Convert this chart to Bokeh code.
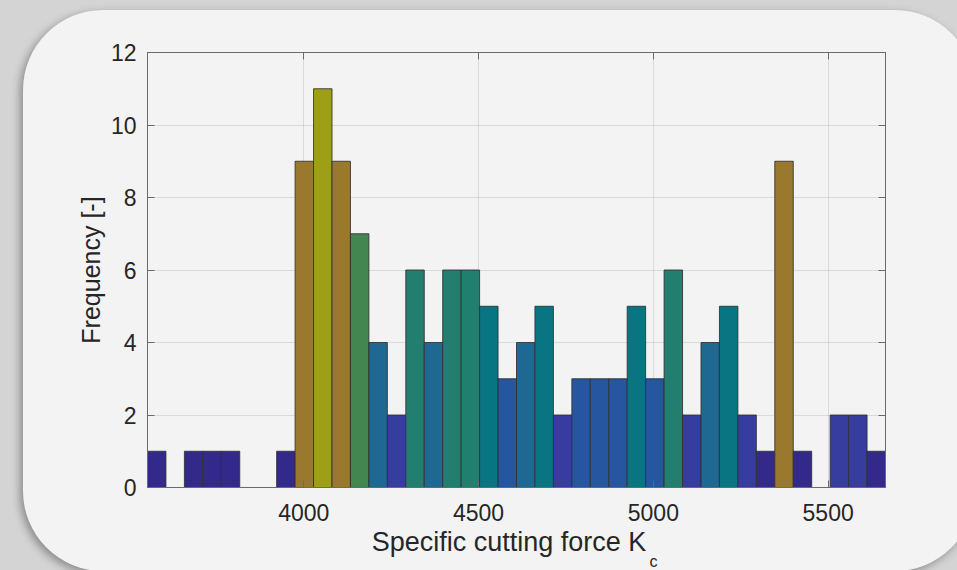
import numpy as np
from bokeh.plotting import figure
from bokeh.models import (ColumnDataSource, LinearAxis, FixedTicker, Range1d, Title,
                          InlineStyleSheet)
from bokeh.embed import file_html
from bokeh.resources import INLINE

# ---------------- data ----------------
bin_min = 3553.0          # first bin edge
bin_max = 5664.0          # last bin edge
counts = [1, 0, 1, 1, 1, 0, 0, 1, 9, 11, 9, 7, 4, 2, 6, 4, 6, 6, 5, 3,
          4, 5, 2, 3, 3, 3, 5, 3, 6, 2, 4, 5, 2, 1, 9, 1, 0, 2, 2, 1]
x_ticks = [4000, 4500, 5000, 5500]
y_ticks = [0, 2, 4, 6, 8, 10, 12]
x_label = "Specific cutting force K"
x_label_sub = "c"
y_label = "Frequency [-]"

# colour per bar height (muted parula-like map seen in the picture)
count_colors = {1: "#32298b", 2: "#373d9f", 3: "#2656a0", 4: "#1e6891",
                5: "#0a7582", 6: "#227e6e", 7: "#43864f", 8: "#6f7f3e",
                9: "#9a782e", 10: "#9c8c22", 11: "#9d9f17"}

# ---------------- build ----------------
edges = np.linspace(bin_min, bin_max, len(counts) + 1)
left, right, top, color = [], [], [], []
for i, c in enumerate(counts):
    if c > 0:
        left.append(edges[i]); right.append(edges[i + 1]); top.append(c)
        color.append(count_colors[c])
src = ColumnDataSource(dict(left=left, right=right, top=top, color=color))

BG = "#d4d4d4"
PANEL = "#f3f3f3"
AX = "#6a6a6a"
TXT = "#262626"
FONT = "Liberation Sans"

p = figure(width=957, height=570, output_backend="svg", toolbar_location=None,
           x_range=Range1d(bin_min, bin_max), y_range=Range1d(0, 12),
           min_border_left=147, min_border_right=72, min_border_top=52,
           min_border_bottom=83)
p.border_fill_color = None
p.background_fill_color = PANEL
p.outline_line_color = AX
p.outline_line_width = 1

# grey page with a rounded, shadowed panel behind the chart
css = """
:host { position: relative; background-color: %s; overflow: hidden; isolation: isolate; }
:host::before { content: ""; position: absolute; left: 23px; top: 10px;
  width: 952px; height: 561px; border-radius: 80px; background-color: %s;
  box-shadow: -3px 3px 9px rgba(0,0,0,0.35); z-index: -1; pointer-events: none; }
""" % (BG, PANEL)
p.stylesheets = [InlineStyleSheet(css=css)]

p.quad(left="left", right="right", top="top", bottom=0, source=src,
       fill_color="color", line_color="#303030", line_alpha=0.85, line_width=1)

# grid
p.xgrid.ticker = FixedTicker(ticks=x_ticks)
p.ygrid.ticker = FixedTicker(ticks=y_ticks)
for g in (p.xgrid[0], p.ygrid[0]):
    g.grid_line_color = "#262626"
    g.grid_line_alpha = 0.12
    g.grid_line_width = 1

p.xaxis.ticker = FixedTicker(ticks=x_ticks)
p.yaxis.ticker = FixedTicker(ticks=y_ticks)


def style_axis(ax):
    ax.major_tick_in = 7
    ax.major_tick_out = 0
    ax.minor_tick_in = 0
    ax.minor_tick_out = 0
    ax.axis_line_color = AX
    ax.major_tick_line_color = AX
    ax.major_label_text_font = FONT
    ax.major_label_text_font_size = "23px"
    ax.major_label_text_color = TXT
    ax.axis_label_text_font = FONT
    ax.axis_label_text_font_size = "25px"
    ax.axis_label_text_font_style = "normal"
    ax.axis_label_text_color = TXT


for ax in p.xaxis + p.yaxis:
    style_axis(ax)

p.yaxis.major_label_standoff = 11
p.yaxis.axis_label = y_label
p.yaxis.axis_label_standoff = 3
p.xaxis.major_label_standoff = 16
p.xaxis.axis_label = x_label + "\u00a0\u00a0"
p.xaxis.axis_label_text_font_size = "27px"
p.xaxis.axis_label_standoff = 3

# box-style inward ticks on top and right
top_ax = LinearAxis(ticker=FixedTicker(ticks=x_ticks),
                    major_label_overrides={t: "" for t in x_ticks})
right_ax = LinearAxis(ticker=FixedTicker(ticks=y_ticks),
                      major_label_overrides={t: "" for t in y_ticks})
for ax in (top_ax, right_ax):
    style_axis(ax)
    ax.major_label_text_font_size = "1px"
    ax.major_label_standoff = 0
p.add_layout(top_ax, "above")
p.add_layout(right_ax, "right")

# subscript of the x label, placed in the panel below the axis
p.add_layout(Title(text=x_label_sub, align="left", offset=502, standoff=-21,
                   text_font=FONT, text_font_size="16px", text_font_style="normal",
                   text_color=TXT), "below")

open("out.html", "w").write(file_html(p, INLINE))
